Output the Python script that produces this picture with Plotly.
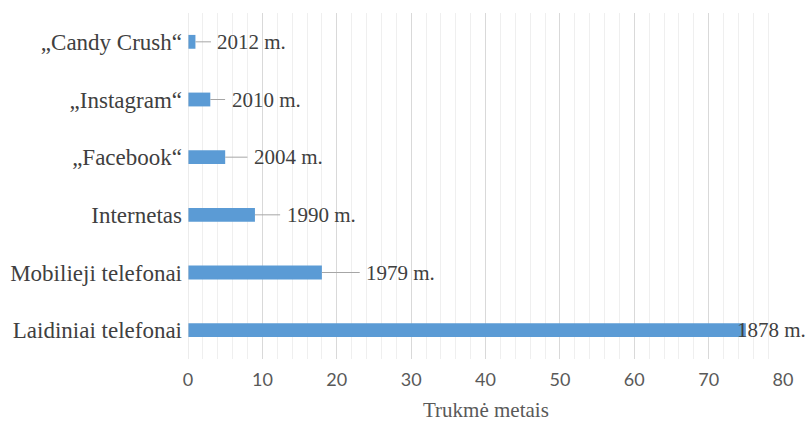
import plotly.graph_objects as go

categories = ["Laidiniai telefonai", "Mobilieji telefonai", "Internetas",
              "„Facebook“", "„Instagram“", "„Candy Crush“"]
durations = [75, 18, 9, 5, 3, 1]
year_labels = ["1878 m.", "1979 m.", "1990 m.", "2004 m.", "2010 m.", "2012 m."]
x_ticks = [0, 10, 20, 30, 40, 50, 60, 70, 80]
x_title = "Trukmė metais"

# label placement (style), in axis units: centre of each data label
label_centres = [78.4, 28.6, 17.9, 13.5, 10.5, 8.6]
show_leader = [False, True, True, True, True, True]

SERIF = "Liberation Serif, Times New Roman, DejaVu Serif, serif"

fig = go.Figure()
fig.add_trace(go.Bar(
    y=categories, x=durations, orientation="h",
    marker=dict(color="#5B9BD5", line=dict(width=0)),
    width=0.24, hoverinfo="skip",
))

for cat, val, txt, cx, lead in zip(categories, durations, year_labels, label_centres, show_leader):
    if lead:
        fig.add_annotation(
            x=val, y=cat, xref="x", yref="y",
            ax=cx, ay=cat, axref="x", ayref="y",
            text=txt, showarrow=True, arrowhead=0, arrowwidth=1,
            arrowcolor="#a6a6a6", standoff=0, borderpad=6,
            font=dict(family=SERIF, size=21, color="#404040"),
        )
    else:
        fig.add_annotation(
            x=cx, y=cat, xref="x", yref="y", text=txt, showarrow=False,
            font=dict(family=SERIF, size=21, color="#404040"),
        )

# axis title placed as a paper annotation near the bottom edge
fig.add_annotation(
    x=0.5, y=-0.147, xref="paper", yref="paper", yanchor="middle",
    text=x_title, showarrow=False, borderpad=0,
    font=dict(family=SERIF, size=21, color="#595959"),
)

fig.update_layout(
    width=809, height=421,
    margin=dict(l=188, r=26, t=13, b=62),
    paper_bgcolor="white", plot_bgcolor="white",
    showlegend=False,
    bargap=0.76,
)
fig.update_xaxes(
    range=[0, 80], tickvals=x_ticks, ticktext=[str(t) for t in x_ticks],
    showgrid=True, gridcolor="#d9d9d9", gridwidth=1,
    minor=dict(dtick=2, showgrid=True, gridcolor="#efefef", gridwidth=1),
    zeroline=False, showline=False, ticks="",
    tickfont=dict(family="Lato, sans-serif", size=18, color="#595959"),
    ticklabelstandoff=8, automargin=False,
    fixedrange=True,
)
fig.update_yaxes(
    showgrid=False, zeroline=False, showline=False, ticks="",
    tickfont=dict(family=SERIF, size=23, color="#404040"),
    ticklabelstandoff=5, fixedrange=True, automargin=False,
)
fig.add_vline(x=0, line=dict(color="#d9d9d9", width=1))

fig.write_html("out.html")
